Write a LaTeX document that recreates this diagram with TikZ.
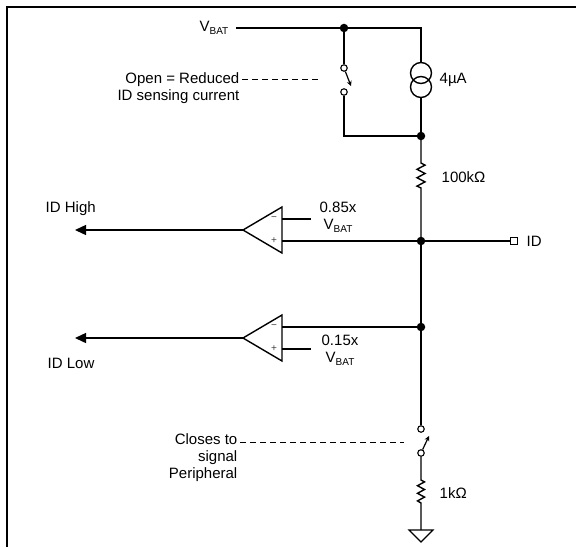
\documentclass[tikz,border=0pt]{standalone}
\usepackage{fontspec}
\setmainfont{Liberation Sans}
\usetikzlibrary{positioning}
\usetikzlibrary{arrows.meta}
\newcommand{\vbat}{V\raisebox{-3pt}{\fontsize{10}{10}\selectfont BAT}}

\begin{document}
\begin{tikzpicture}
  [x=1pt,y=-1pt,line width=1.4pt,line join=miter,
  dot/.style={circle,draw=black,fill=black,inner sep=0pt,minimum size=7pt},
  contact/.style={circle,draw=black,fill=white,line width=1.1pt,inner sep=0pt,minimum size=6.5pt},
  pin/.style={rectangle,draw=black,fill=white,line width=1.1pt,inner sep=0pt,minimum size=6.5pt},
  ring/.style={circle,draw=black,line width=1.4pt,inner sep=0pt,minimum size=21pt},
  txt/.style={inner sep=0pt,font=\fontsize{15}{17}\selectfont},
  sgn/.style={inner sep=0pt,font=\fontsize{10}{10}\selectfont,text=black!75},
  lead/.style={line width=0.9pt,dash pattern=on 6pt off 4pt},
  blade/.style={line width=1.2pt,-{Stealth[length=5pt,width=5pt]}},
  outarrow/.style={-{Triangle[length=11pt,width=10pt]}}]
  \useasboundingbox (0,0) rectangle (576,547);
  \draw [line width=2.4pt] (7,547) -- (7,7) -- (576,7);

  % supply rail, switch and current source
  \coordinate (10) at (236,28);
  \node[dot] (11) at (344,28) {};
  \coordinate (12) at (421,28);
  \node[txt,anchor=east] at (229,28) {\vbat};
  \node[contact] (21) at (344,68) {};
  \node[contact] (22) at (344,92) {};
  \coordinate (21t) at (351,86);
  \node[ring] (23) at (421,73) {};
  \node[ring] (24) at (421,87) {};
  \coordinate (25) at (344,136);
  \node[dot] (26) at (421,136) {};
  \draw (10) -- (11) -- (12) -- (23);
  \draw (11) -- (21);
  \draw [blade] (21) -- (21t);
  \draw (22) -- (25) -- (26);
  \draw (24) -- (26);
  \node[txt,anchor=west] at (439,80) {4µA};
  \node[txt,align=right,anchor=east] (30) at (240,88) {Open = Reduced\\ID sensing current};
  \coordinate (31) at (242,79);
  \coordinate (32) at (321,79);
  \draw [lead] (31) -- (32);

  % 100k and ID node
  \coordinate (41) at (421,163);
  \coordinate (42) at (421,188);
  \node[dot] (51) at (421,241) {};
  \node[pin] (52) at (514,241) {};
  \node[dot] (61) at (421,327) {};
  \draw (26) -- (41) -- ++(4,2.1) -- ++(-8,4.2) -- ++(8,4.2) -- ++(-8,4.2) -- ++(8,4.2) -- ++(-8,4.2) -- (42) -- (51);
  \draw (51) -- (61);
  \draw (51) -- (52);
  \node[txt,anchor=west] at (441,177) {100kΩ};
  \node[txt,anchor=west] at (526,241) {ID};

  % comparator high
  \coordinate (71) at (243,230);
  \coordinate (72) at (282,219);
  \coordinate (73) at (282,241);
  \coordinate (74) at (311,219);
  \coordinate (75) at (75,230);
  \draw (71) -- (282,207) -- (282,253) -- cycle;
  \node[sgn] at (274,219) {−};
  \node[sgn] at (274,241) {+};
  \draw (72) -- (74);
  \draw (73) -- (51);
  \draw [outarrow] (71) -- (75);
  \node[txt,anchor=west] at (45,209) {ID High};
  \node[txt,align=center] at (338,217) {0.85x\\\vbat};

  % comparator low
  \coordinate (81) at (243,338);
  \coordinate (82) at (282,327);
  \coordinate (83) at (282,349);
  \coordinate (84) at (311,349);
  \coordinate (85) at (75,338);
  \draw (81) -- (282,315) -- (282,361) -- cycle;
  \node[sgn] at (274,327) {−};
  \node[sgn] at (274,349) {+};
  \draw (82) -- (61);
  \draw (83) -- (84);
  \draw [outarrow] (81) -- (85);
  \node[txt,anchor=west] at (47,363) {ID Low};
  \node[txt,align=center] at (340,350) {0.15x\\\vbat};

  % peripheral switch, 1k and ground
  \node[contact] (91) at (421,429) {};
  \node[contact] (92) at (421,453) {};
  \coordinate (93) at (429,436);
  \draw (61) -- (91);
  \draw [blade] (92) -- (93);
  \node[txt,align=right,anchor=east] (94) at (238,458) {Closes to\\signal\\Peripheral};
  \coordinate (95) at (240,442);
  \coordinate (96) at (404,442);
  \draw [lead] (95) -- (96);
  \coordinate (97) at (421,480);
  \coordinate (98) at (421,503);
  \coordinate (99) at (421,530);
  \draw (92) -- (97) -- ++(3.5,1.9) -- ++(-7,3.8) -- ++(7,3.8) -- ++(-7,3.8) -- ++(7,3.8) -- ++(-7,3.8) -- (98) -- (99);
  \draw [line width=1.2pt] (99) -- ++(-12,0) -- ++(12,12) -- ++(12,-12) -- cycle;
  \node[txt,anchor=west] at (439,493) {1kΩ};
\end{tikzpicture}
\end{document}
